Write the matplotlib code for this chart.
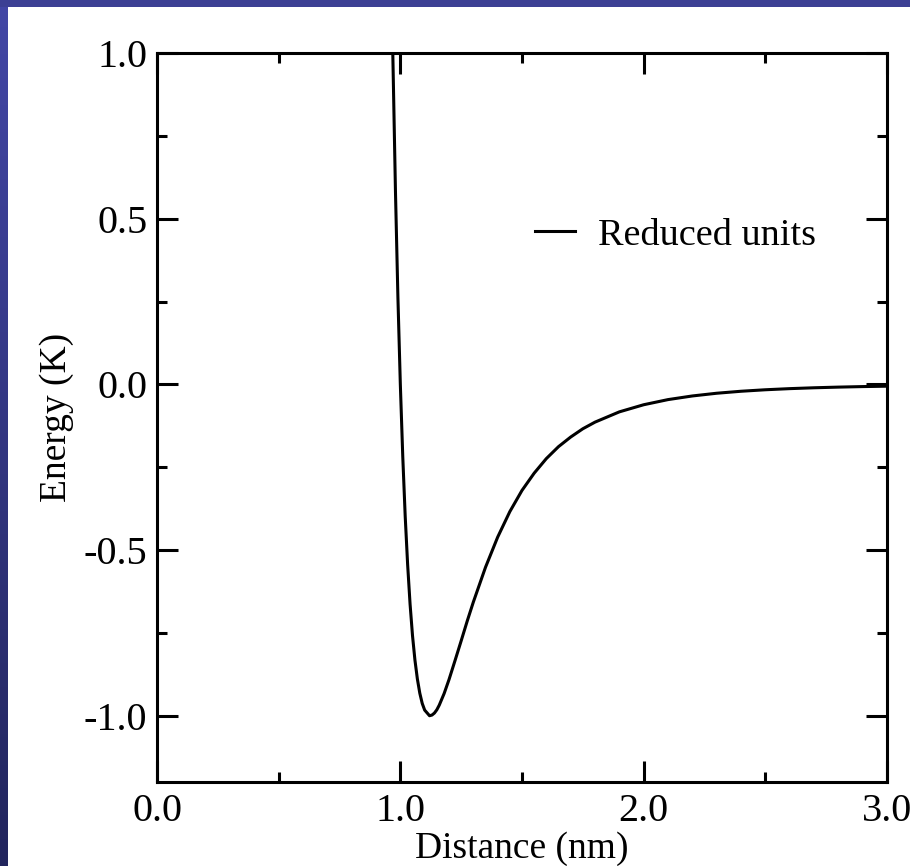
#!/usr/bin/env python3
"""
plot.py
Lennard-Jones potential in reduced units
"""

import numpy as np
import matplotlib.pyplot as plt
from matplotlib.patches import Rectangle
from matplotlib.colors import LinearSegmentedColormap
from matplotlib.ticker import MultipleLocator

# values
distance = [0.969, 0.97, 0.98, 0.99, 1.00, 1.01, 1.02, 1.03, 1.04, 1.05,
            1.06, 1.07, 1.08, 1.09, 1.10, 1.12, 1.13, 1.14, 1.15, 1.16,
            1.18, 1.20, 1.225, 1.25, 1.275, 1.30, 1.35, 1.40, 1.45, 1.50,
            1.55, 1.60, 1.65, 1.70, 1.75, 1.80, 1.90, 2.00, 2.10, 2.20,
            2.30, 2.40, 2.50, 2.60, 2.70, 2.80, 2.90, 3.00]
energy = [1.000, 0.963, 0.582, 0.264, 0.000, -0.218, -0.398, -0.544, -0.663, -0.758,
          -0.832, -0.889, -0.932, -0.963, -0.983, -1.000, -0.998, -0.992, -0.982, -0.968,
          -0.933, -0.891, -0.833, -0.774, -0.714, -0.657, -0.552, -0.461, -0.384, -0.320,
          -0.268, -0.224, -0.188, -0.159, -0.134, -0.114, -0.083, -0.0615, -0.046, -0.035,
          -0.0268, -0.0208, -0.0163, -0.0129, -0.0103, -0.0083, -0.0067, -0.0055]
series_label = 'Reduced units'

plt.rcParams['font.family'] = ['Liberation Serif', 'DejaVu Serif']
plt.rcParams['axes.unicode_minus'] = False

fig = plt.figure(figsize=(9.1, 8.66), dpi=100)
fig.patch.set_facecolor('white')

# blue slide border: gradient strip on the left, solid strip on top
band = fig.add_axes([0, 0, 8 / 910, 1])
band.axis('off')
blue = LinearSegmentedColormap.from_list('blue', ['#22255d', '#4347a6'])
band.imshow(np.linspace(0, 1, 256).reshape(-1, 1), cmap=blue, aspect='auto',
            origin='lower', extent=[0, 1, 0, 1])
fig.add_artist(Rectangle((0, 1 - 7 / 866), 1, 7 / 866, transform=fig.transFigure,
                         facecolor='#3c4094', edgecolor='none'))

ax = fig.add_axes([157 / 910, 84 / 866, 730 / 910, 729 / 866])
ax.plot(distance, energy, color='black', lw=2.2, label=series_label)

ax.set_xlim(0, 3.0)
ax.set_ylim(-1.2, 1.0)
ax.xaxis.set_major_locator(MultipleLocator(1.0))
ax.xaxis.set_minor_locator(MultipleLocator(0.5))
ax.yaxis.set_major_locator(MultipleLocator(0.5))
ax.yaxis.set_minor_locator(MultipleLocator(0.25))
ax.xaxis.set_major_formatter('{x:.1f}')
ax.yaxis.set_major_formatter('{x:.1f}')

for side in ax.spines.values():
    side.set_linewidth(2.2)
ax.tick_params(which='both', direction='in', top=True, right=True,
               width=2.2, labelsize=29)
ax.tick_params(which='major', length=15)
ax.tick_params(axis='x', which='major', pad=8)
ax.tick_params(axis='y', which='major', pad=7)
ax.tick_params(which='minor', length=7.5)

ax.set_xlabel('Distance (nm)', fontsize=27, labelpad=1)
ax.set_ylabel('Energy (K)', fontsize=27, labelpad=7)

ax.legend(loc='center left', bbox_to_anchor=(0.518, 0.75), frameon=False,
          fontsize=27.5, handlelength=1.05, handletextpad=0.6,
          borderpad=0, borderaxespad=0)

fig.savefig('out.png', dpi=100)
